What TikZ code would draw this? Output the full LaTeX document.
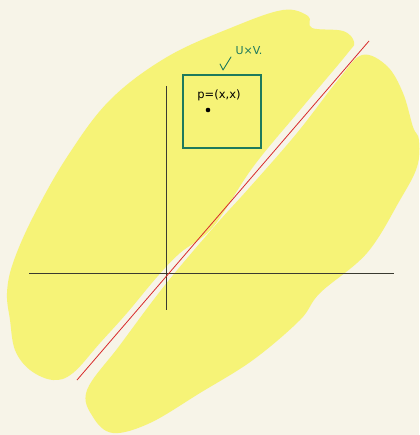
\documentclass[tikz,border=0pt]{standalone}
\usepackage{fontspec}
\setmainfont{DejaVu Sans}
\definecolor{bg}{HTML}{F7F4E8}
\definecolor{hl}{HTML}{F6F377}
\definecolor{boxgreen}{HTML}{1E7A5C}
\definecolor{axisc}{HTML}{3A3A30}
\definecolor{diag}{HTML}{D82A2A}
\begin{document}
\begin{tikzpicture}[x=1pt,y=-1pt,
  blob/.style={fill=hl,draw=none},
  axisline/.style={draw=axisc,line width=0.7pt},
  diagline/.style={draw=diag,line width=0.8pt},
  setbox/.style={draw=boxgreen,line width=1.1pt,minimum width=78pt,minimum height=73pt,inner sep=0pt},
  hand/.style={font=\fontsize{12}{13}\selectfont,inner sep=1pt},
  ]
\fill[bg] (0,0) rectangle (419,435);
\useasboundingbox (0,0) rectangle (419,435);
% upper blob
\fill[blob] plot[smooth cycle,tension=0.6] coordinates {
 (283,10) (308,16) (312,28) (343,31) (354,42) (347,54)
 (300,110) (253,167) (213,227) (180,253) (157,277) (127,313)
 (100,343) (73,373) (53,380) (30,370) (15,350) (10,320)
 (7,293) (13,263) (33,217) (67,157) (110,100) (167,57) (233,27)};
% lower blob
\fill[blob] plot[smooth cycle,tension=0.6] coordinates {
 (362,55) (387,66) (403,93) (413,127) (419,140) (417,167)
 (400,200) (367,253) (320,293) (300,320) (253,360) (200,393)
 (150,423) (113,433) (93,417) (87,390) (120,345) (165,285)
 (213,228) (250,187) (297,133) (338,80)};
% axes
\coordinate (xl) at (29,273);
\coordinate (xr) at (394,273);
\coordinate (yt) at (166,86);
\coordinate (yb) at (166,310);
\draw[axisline] (xl) -- (xr);
\draw[axisline] (yt) -- (yb);
% diagonal
\coordinate (d1) at (77,380);
\coordinate (d2) at (369,41);
\draw[diagline] (d1) -- (d2);
% box
\node[setbox] (box) at (222,111.5) {};
\node[hand,font=\fontsize{11.5}{13}\selectfont] (plabel) at (219,95) {p=(x,x)};
\fill (208,110) circle (2.3pt) node (pdot) {};
\node[hand,text=boxgreen,font=\fontsize{11}{12}\selectfont] (uv) at (249,51) {U×V.};
\coordinate (ca) at (231,57);
\coordinate (cb) at (223,70);
\coordinate (cc) at (220,64);
\draw[boxgreen,line width=0.9pt,line cap=round,line join=round] (ca) -- (cb) -- (cc);
\end{tikzpicture}
\end{document}
